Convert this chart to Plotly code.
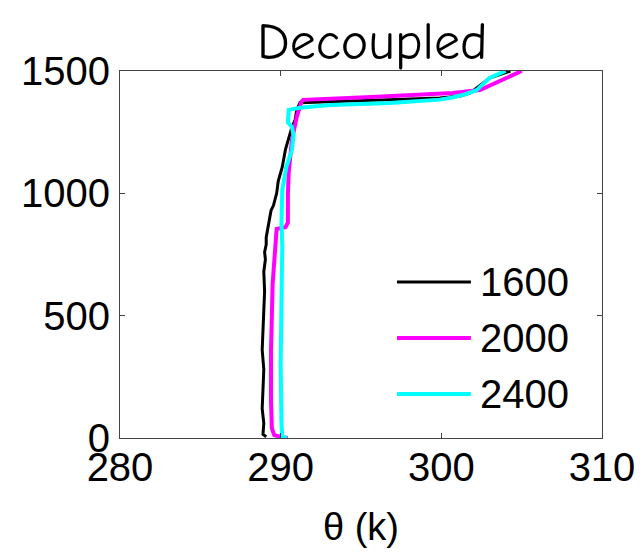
import plotly.graph_objects as go

# ---- data ----
names = ["1600", "2000", "2400"]
colors = ["#000000", "#ff00ff", "#00ffff"]
widths = [3, 4, 4]

theta_1600 = [289.1, 288.9, 288.95, 288.85, 288.9, 288.95, 288.85, 288.9, 288.95, 289.0, 288.95,
              289.05, 289.0, 289.1, 289.1, 289.2, 289.3, 289.4, 289.55, 289.65, 289.75, 289.85,
              290.1, 290.3, 290.5, 290.7, 290.9, 291.0, 291.2, 295.0, 299.9, 301.2, 301.8, 303.0, 304.3]
z_1600 = [5, 15, 60, 120, 200, 280, 360, 440, 520, 600, 680,
          730, 760, 790, 820, 860, 900, 930, 950, 975, 1000, 1050,
          1108, 1180, 1230, 1270, 1300, 1340, 1370, 1380, 1390, 1398, 1410, 1471, 1500]

theta_2000 = [290.45, 290.1, 289.6, 289.45, 289.4, 289.4, 289.5, 289.6, 289.65, 289.7, 289.75,
              290.3, 290.45, 290.45, 290.5, 290.7, 291.0, 291.3, 291.4, 296.0, 300.0, 300.7,
              302.4, 303.8, 305.0]
z_2000 = [0, 3, 12, 40, 150, 360, 630, 740, 780, 842, 855,
          862, 880, 1000, 1083, 1218, 1312, 1375, 1382, 1395, 1408, 1410,
          1422, 1463, 1500]

theta_2400 = [290.4, 290.1, 290.05, 290.0, 290.05, 290.1, 290.05, 290.1, 290.35, 290.7, 290.8,
              290.7, 290.45, 290.5, 291.2, 293.1, 296.8, 299.9, 300.7, 301.5, 302.2, 303.0, 304.0]
z_2400 = [0, 5, 60, 300, 560, 780, 880, 1014, 1108, 1177, 1238,
          1271, 1290, 1341, 1350, 1361, 1369, 1383, 1392, 1405, 1422, 1472, 1500]

thetas = [theta_1600, theta_2000, theta_2400]
zs = [z_1600, z_2000, z_2400]

x_ticks = [280, 290, 300, 310]
y_ticks = [0, 500, 1000, 1500]

title_text = "Decoupled"
x_title = "θ (k)"

TICK_FONT = dict(family="Liberation Sans, Arial, sans-serif", size=40, color="black")

fig = go.Figure()
for th, z, nm, c, w in zip(thetas, zs, names, colors, widths):
    fig.add_trace(go.Scatter(x=th, y=z, mode="lines", name=nm,
                             line=dict(color=c, width=w), showlegend=False))

# custom legend (long line samples like the original)
leg_y = [0.425, 0.2725, 0.12]
for nm, c, w, yy in zip(names, colors, widths, leg_y):
    fig.add_shape(type="line", xref="paper", yref="paper",
                  x0=0.5747, x1=0.728, y0=yy, y1=yy,
                  line=dict(color=c, width=w))
    fig.add_annotation(xref="paper", yref="paper", x=0.743, y=yy, text=nm,
                       showarrow=False, xanchor="left", yanchor="middle",
                       font=TICK_FONT)

# title
fig.add_annotation(xref="paper", yref="paper", x=0.523, y=1.08, text=title_text,
                   showarrow=False, xanchor="center", yanchor="middle",
                   font=dict(family="Comic Sans MS, Comic Neue, Lato, sans-serif", size=52, color="black"))

axis_common = dict(showline=True, linecolor="#444444", linewidth=1, mirror="ticks",
                   ticks="inside", ticklen=5, tickcolor="#444444", automargin=False,
                   showgrid=False, zeroline=False, tickfont=TICK_FONT)

# the page body has an 8px default margin: size/margins compensate for it
fig.update_layout(
    width=636, height=546,
    margin=dict(l=112, r=42, t=63, b=116),
    paper_bgcolor="white", plot_bgcolor="white",
    xaxis=dict(range=[280, 310], tickvals=x_ticks, ticktext=[str(v) for v in x_ticks],
               ticklabelstandoff=-6,
               title=dict(text=x_title, standoff=25,
                          font=dict(family="Liberation Sans, Arial, sans-serif", size=38, color="black")),
               **axis_common),
    yaxis=dict(range=[0, 1500], tickvals=y_ticks, ticktext=[str(v) for v in y_ticks],
               ticklabelstandoff=1, **axis_common),
)

fig.write_html("out.html")
